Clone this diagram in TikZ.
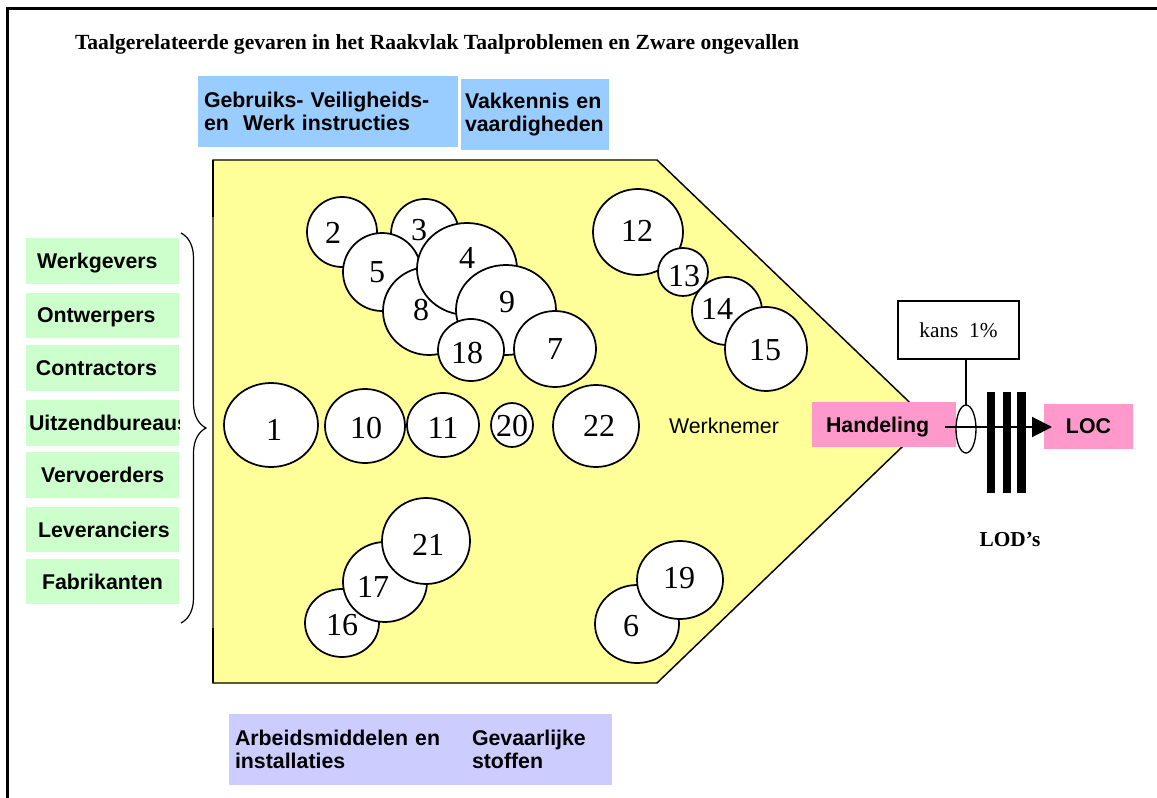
\documentclass[tikz,border=0pt]{standalone}
\usepackage{fontspec}
\setmainfont{Liberation Serif}
\setsansfont{Liberation Sans}
\usetikzlibrary{shapes.geometric,arrows.meta,decorations.pathreplacing}
\definecolor{bluec}{HTML}{99CCFF}
\definecolor{greenc}{HTML}{CCFFCC}
\definecolor{yellowc}{HTML}{FFFF99}
\definecolor{pinkc}{HTML}{FF99CC}
\definecolor{purplec}{HTML}{CCCCFF}
\newcommand\bub[8]{%
  \node[bubble, minimum width={1.5pt*#4}, minimum height={1.5pt*#5}] (#1) at (#2,#3) {};
  \node[numtxt] (#1t) at (#7,#8) {#6};}
\newcommand\gbox[5]{% name, ytop, ybot, inset, text
  \node[greenbox, minimum height={0.75pt*(#3-#2)}, inner xsep={0.75pt*#4}, text width={0.75pt*(153-#4-#4)}] (#1) at (102.5,{(#2+#3)/2}) {#5};}
\begin{document}
\begin{tikzpicture}[x=0.75pt,y=-0.75pt,
  every node/.style={inner sep=0pt, outer sep=0pt},
  sf/.style={font=\sffamily\bfseries\fontsize{16pt}{17.25pt}\selectfont},
  bubble/.style={ellipse, draw, fill=white, line width=1.3pt},
  numtxt/.style={font=\rmfamily\fontsize{24pt}{24pt}\selectfont},
  greenbox/.style={sf, fill=greenc, align=left, inner ysep=0pt, text depth=0pt},
  topbox/.style={sf, fill=bluec, align=left, anchor=north west},
  botbox/.style={sf, fill=purplec, align=left, anchor=north west},
  pinkbox/.style={sf, fill=pinkc, text depth=0pt}]
\useasboundingbox (0,0) rectangle (1157,798);
\fill[white] (0,0) rectangle (1157,798);
% frame
\draw[line width=2.25pt] (7,798) -- (7,9) -- (1157,9);
% title
\node[anchor=base west, font=\rmfamily\bfseries\fontsize{16.2pt}{18pt}\selectfont] (title) at (75,50)
  {Taalgerelateerde gevaren in het Raakvlak Taalproblemen en Zware ongevallen};
% top boxes
\node[topbox, minimum height={0.75pt*71}, inner xsep={0.75pt*6}, text width={0.75pt*248}] (gebr) at (198,76)
  {Gebruiks- Veiligheids-\\en\ \ Werk instructies};
\node[topbox, minimum height={0.75pt*71}, inner xsep={0.75pt*4}, text width={0.75pt*140}] (vak) at (461,79)
  {Vakkennis en\\vaardigheden};
% bottom boxes
\node[botbox, minimum height={0.75pt*71}, inner xsep={0.75pt*6}, text width={0.75pt*226}] (arb) at (229,714)
  {Arbeidsmiddelen en\\installaties};
\node[botbox, minimum height={0.75pt*71}, inner xsep={0.75pt*5}, text width={0.75pt*135}] (gev) at (467,714)
  {Gevaarlijke\\stoffen};
% yellow polygon
\draw[fill=yellowc, line width=1.1pt] (213,160) -- (657,160) -- (929,421) -- (657,683) -- (213,683) -- cycle;
\draw[line width=2pt] (213,160) -- (213,217);
\draw[line width=2pt] (213,628) -- (213,683);
% circles
\bub{c2}{342}{232}{35}{35}{2}{333}{233}
\bub{c3}{425}{234}{34}{35}{3}{419}{230}
\bub{c5}{382}{272}{39}{39}{5}{377}{272}
\bub{c8}{429}{311}{46}{44}{8}{421}{310}
\bub{c4}{467}{269}{50}{46}{4}{467}{258}
\bub{c9}{506}{310}{50}{45}{9}{507}{302}
\bub{c18}{471}{350}{33}{31}{18}{467}{353}
\bub{c7}{555}{349}{41}{38}{7}{555}{349}
\bub{c12}{638}{232}{45}{43}{12}{637}{231}
\bub{c13}{683}{272}{25}{24}{13}{684}{276}
\bub{c14}{727}{311}{35}{34}{14}{717}{309}
\bub{c15}{766}{349}{41}{42}{15}{765}{350}
\bub{c1}{271}{425}{47}{42}{1}{274}{430}
\bub{c10}{365}{426}{40}{37}{10}{366}{428}
\bub{c11}{443}{425}{36}{32}{11}{443}{428}
\bub{c20}{512}{425}{21}{22}{20}{512}{426}
\bub{c22}{596}{426}{43}{41}{22}{599}{426}
\bub{c16}{342}{623}{37}{34}{16}{342}{625}
\bub{c17}{385}{582}{42}{40}{17}{373}{587}
\bub{c21}{426}{541}{44}{43}{21}{428}{545}
\bub{c6}{637}{624}{42}{39}{6}{631}{626}
\bub{c19}{680}{580}{43}{39}{19}{679}{578}
\node[font=\sffamily\fontsize{16pt}{18pt}\selectfont] (werk) at (724,426) {Werknemer};
% brace
\draw[decorate, decoration={brace, amplitude=18.75pt}, line width=0.9pt] (181,233) -- (181,623);
% green boxes
\gbox{g1}{238}{284}{11}{Werkgevers}
\gbox{g2}{293}{338}{11}{Ontwerpers}
\gbox{g3}{345}{391}{10}{Contractors}
\begin{scope}
\clip (26,400) rectangle (179,446);
\gbox{g4}{400}{446}{3}{Uitzendbureaus}
\end{scope}
\gbox{g5}{452}{498}{15}{Vervoerders}
\gbox{g6}{507}{552}{12}{Leveranciers}
\gbox{g7}{559}{604}{16}{Fabrikanten}
% right part
\node[pinkbox, minimum height={0.75pt*45}, inner xsep={0.75pt*14}, text width={0.75pt*116}, align=left] (hand) at (884,424.5) {Handeling};
\node[pinkbox, minimum width={0.75pt*89}, minimum height={0.75pt*45}] (loc) at (1088.5,426.5) {LOC};
\node[draw, fill=white, line width=0.9pt, minimum width={0.75pt*121}, minimum height={0.75pt*58}, font=\rmfamily\fontsize{16pt}{18pt}\selectfont] (kans) at (958.5,330) {kans\ \ 1\%};
\node[ellipse, draw, fill=white, line width=1pt, minimum width={0.75pt*20}, minimum height={0.75pt*48}] (ell) at (966,429) {};
\draw[line width=1pt] (ell.north) -- (ell.north |- kans.south);
\fill (987,392) rectangle (995,493);
\fill (1003,392) rectangle (1011,493);
\fill (1017,392) rectangle (1026,493);
\coordinate (astart) at (945,427);
\draw[line width=1.5pt, -{Triangle[length=15pt,width=15pt]}] (astart) -- ([xshift=6pt]loc.west |- astart);
\node[font=\rmfamily\bfseries\fontsize{16pt}{18pt}\selectfont] (lod) at (1010,540) {LOD’s};
\end{tikzpicture}
\end{document}
